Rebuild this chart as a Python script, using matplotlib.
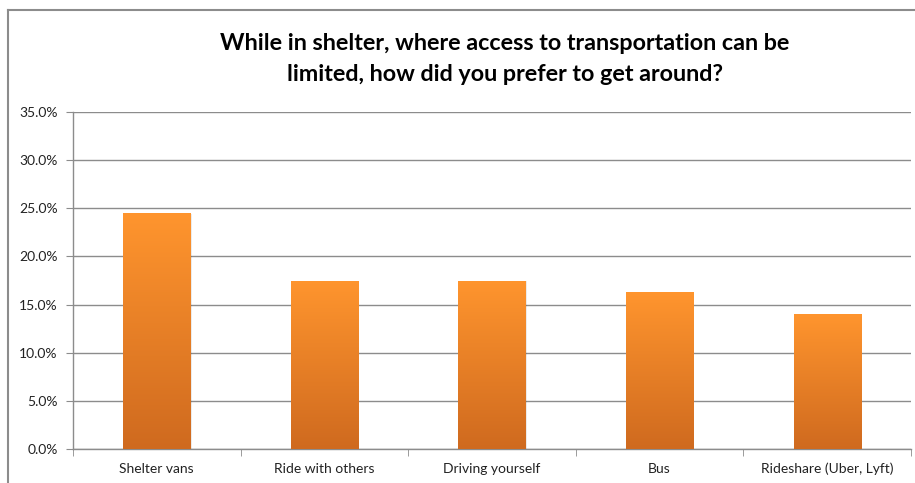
import numpy as np
import matplotlib
matplotlib.use("Agg")
import matplotlib.pyplot as plt
from matplotlib.lines import Line2D
from matplotlib.colors import LinearSegmentedColormap
from matplotlib.ticker import FuncFormatter, MultipleLocator

# data
categories = ["Shelter vans", "Ride with others", "Driving yourself", "Bus", "Rideshare (Uber, Lyft)"]
shares = [0.245, 0.175, 0.175, 0.163, 0.140]
title = "While in shelter, where access to transportation can be\nlimited, how did you prefer to get around?"

plt.rcParams['font.family'] = ['Lato', 'DejaVu Sans']

W, H = 915, 483
fig = plt.figure(figsize=(W / 100, H / 100), dpi=100)
ax = fig.add_axes([73 / W, 1 - 449 / H, (911 - 73) / W, (449 - 112) / H])

x = np.arange(len(categories))
bars = ax.bar(x, shares, width=0.4, color='none', zorder=3)

# vertical gradient, light orange at top, darker at bottom
cmap = LinearSegmentedColormap.from_list("org", ["#cf6a1f", "#ff952e"])
grad = np.linspace(0, 1, 256).reshape(-1, 1)
for b in bars:
    x0, y0 = b.get_x(), b.get_y()
    w, h = b.get_width(), b.get_height()
    # faint shadow
    ax.bar(x0 + w / 2 + 0.008, h, width=w, bottom=-0.001, color='#000000', alpha=0.08, zorder=2)
    im = ax.imshow(grad, extent=[x0, x0 + w, y0, y0 + h], origin='lower', cmap=cmap,
                   aspect='auto', zorder=4)
    im.set_clip_path(b)

ax.set_xlim(-0.5, len(categories) - 0.5)
ax.set_ylim(0, 0.35)
ax.yaxis.set_major_locator(MultipleLocator(0.05))
ax.yaxis.set_major_formatter(FuncFormatter(lambda v, p: f"{v * 100:.1f}%"))
ax.grid(axis='y', color='#8c8c8c', linewidth=1.0, zorder=0)

ax.set_xticks(x)
ax.set_xticklabels(categories)
ax.set_xticks(np.arange(-0.5, len(categories)), minor=True)
ax.tick_params(axis='x', which='major', length=0, pad=10, labelsize=10, labelcolor='#222222')
ax.tick_params(axis='x', which='minor', length=5, color='#8c8c8c', direction='out')
ax.tick_params(axis='y', length=5, color='#8c8c8c', labelsize=10, labelcolor='#222222', pad=6)

for s in ['top', 'right']:
    ax.spines[s].set_visible(False)
for s in ['left', 'bottom']:
    ax.spines[s].set_color('#8c8c8c')
    ax.spines[s].set_linewidth(1.0)

fig.text(505 / W, 1 - 59 / H, title, ha='center', va='center', fontsize=16.8,
         fontweight='bold', linespacing=1.6, color='#000000')

# outer chart frame (only top and left edges visible)
fig.add_artist(Line2D([8 / W, 1], [1 - 9.5 / H, 1 - 9.5 / H], color='#8c8c8c', linewidth=1.5))
fig.add_artist(Line2D([8 / W, 8 / W], [0, 1 - 9.5 / H], color='#8c8c8c', linewidth=1.5))

fig.savefig("out.png", dpi=100)
